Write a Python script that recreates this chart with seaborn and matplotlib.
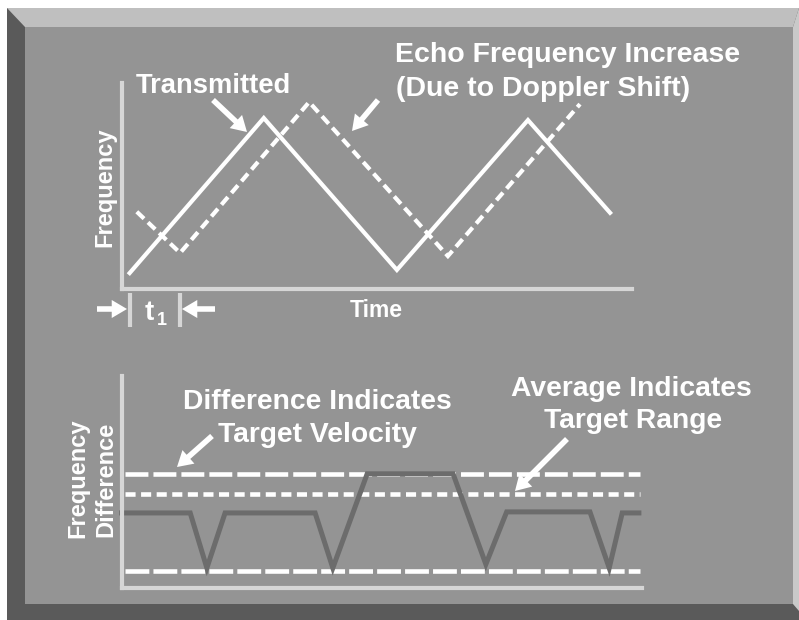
import matplotlib
matplotlib.use('Agg')
import matplotlib.pyplot as plt
from matplotlib.patches import Polygon, Rectangle
import seaborn as sns

# Upper chart: transmitted sweep and Doppler shifted echo (time, frequency)
tx_time = [0.15, 2.78, 5.39, 7.96, 9.57]
tx_freq = [0.31, 3.32, 0.37, 3.28, 1.48]
echo_time = [0.29, 1.14, 3.67, 6.39, 8.98]
echo_freq = [1.50, 0.70, 3.63, 0.64, 3.59]

# Lower chart: frequency difference and reference levels
diff_time = [0.0, 1.32, 1.64, 1.99, 3.72, 4.06, 4.72, 6.37, 7.0, 7.40, 9.0, 9.37, 9.62, 9.94]
diff_freq = [1.41, 1.41, 0.37, 1.41, 1.41, 0.37, 2.15, 2.15, 0.44, 1.43, 1.43, 0.37, 1.41, 1.41]
upper_level = 2.15
average_level = 1.77
lower_level = 0.31
level_span = [0.07, 9.96]

PANEL = '#949494'
AXIS = '#d6d6d6'
TRACE = '#6c6c6c'

plt.rcParams['font.family'] = ['Liberation Sans', 'DejaVu Sans']
plt.rcParams['font.weight'] = 'bold'

W, H = 799, 620
fig = plt.figure(figsize=(W / 100, H / 100), dpi=100)
fig.patch.set_facecolor('white')

# bevelled frame, drawn in pixel coordinates
bg = fig.add_axes([0, 0, 1, 1], zorder=0)
bg.set_xlim(0, W)
bg.set_ylim(H, 0)
bg.axis('off')
bg.add_patch(Polygon([(7, 8), (799, 8), (799, 620), (7, 620)], closed=True, color='#5a5a5a', lw=0))
bg.add_patch(Polygon([(7, 8), (799, 8), (793, 27), (25, 27)], closed=True, color='#bfbfbf', lw=0))
bg.add_patch(Polygon([(799, 8), (799, 611), (793, 604), (793, 27)], closed=True, color='#c9c9c9', lw=0))
bg.add_patch(Rectangle((25, 27), 768, 577, color=PANEL, lw=0))


def style_axes(ax, xlim, ylim):
    ax.set_facecolor('none')
    ax.set_xlim(*xlim)
    ax.set_ylim(*ylim)
    sns.despine(ax=ax)
    for side in ['left', 'bottom']:
        ax.spines[side].set_color(AXIS)
        ax.spines[side].set_linewidth(3)
    ax.set_xticks([])
    ax.set_yticks([])
    ax.set_xlabel('')
    ax.set_ylabel('')


# upper chart
ax1 = fig.add_axes([122 / W, (H - 289) / H, 510 / W, 206 / H], zorder=1)
sns.lineplot(x=tx_time, y=tx_freq, color='white', lw=3, ax=ax1,
             solid_joinstyle='miter')
sns.lineplot(x=echo_time, y=echo_freq, color='white', lw=3, ax=ax1,
             linestyle=(0, (2.4, 1.3)), dash_joinstyle='miter')
style_axes(ax1, (0, 10), (0, 4))
# t1 markers below the time axis
ax1.vlines([tx_time[0], echo_time[1]], -0.74, -0.08, color=AXIS, lw=3, clip_on=False)

# lower chart
ax2 = fig.add_axes([121.5 / W, (H - 587.5) / H, 520.5 / W, 211.5 / H], zorder=1)
ax2.hlines(upper_level, *level_span, color='white', lw=3.3, linestyles=(0, (5.0, 1.1)))
ax2.hlines(average_level, *level_span, color='white', lw=3.3, linestyles=(0, (2.2, 1.2)))
ax2.hlines(lower_level, *level_span, color='white', lw=3.3, linestyles=(0, (5.2, 0.9)))
sns.lineplot(x=diff_time, y=diff_freq, color=TRACE, lw=3.6, ax=ax2,
             solid_joinstyle='miter', clip_on=False)
style_axes(ax2, (0, 10), (0, 4))

# overlay for labels and arrows
ov = fig.add_axes([0, 0, 1, 1], zorder=3)
ov.set_xlim(0, W)
ov.set_ylim(H, 0)
ov.axis('off')


def label(x, y, s, size, ha='center', rot=0):
    ov.text(x, y, s, color='white', fontsize=size, fontweight='bold', ha=ha,
            va='baseline', rotation=rot, rotation_mode='anchor')


def arrow(tail, tip):
    ov.annotate('', xy=tip, xytext=tail,
                arrowprops=dict(arrowstyle='simple,head_length=1.1,head_width=1.3,tail_width=0.4',
                                color='white', lw=0, shrinkA=0, shrinkB=0, mutation_scale=10))


label(213.5, 93, 'Transmitted', 19.7)
label(395, 62, 'Echo Frequency Increase', 20.5, ha='left')
label(396, 96, '(Due to Doppler Shift)', 20.5, ha='left')
label(111.5, 187, 'Frequency', 17, rot=90)
label(376.5, 317, 'Time', 16.5)
label(145, 320, 't', 20, ha='left')
label(157, 325, '1', 13, ha='left')

label(317, 409, 'Difference Indicates', 20.3)
label(317, 442, 'Target Velocity', 20.3)
label(631.5, 396.5, 'Average Indicates', 20.3)
label(633.5, 428, 'Target Range', 20.3)
label(84.5, 478, 'Frequency', 17, rot=90)
label(112, 479, 'Difference', 17, rot=90)

arrow((213, 100), (247, 132))
arrow((378, 100), (352, 131))
arrow((97, 309), (127, 309))
arrow((215, 309), (182, 309))
arrow((212, 436), (177, 467))
arrow((567, 439), (515, 491))

fig.savefig('out.png', dpi=100, facecolor=fig.get_facecolor())
